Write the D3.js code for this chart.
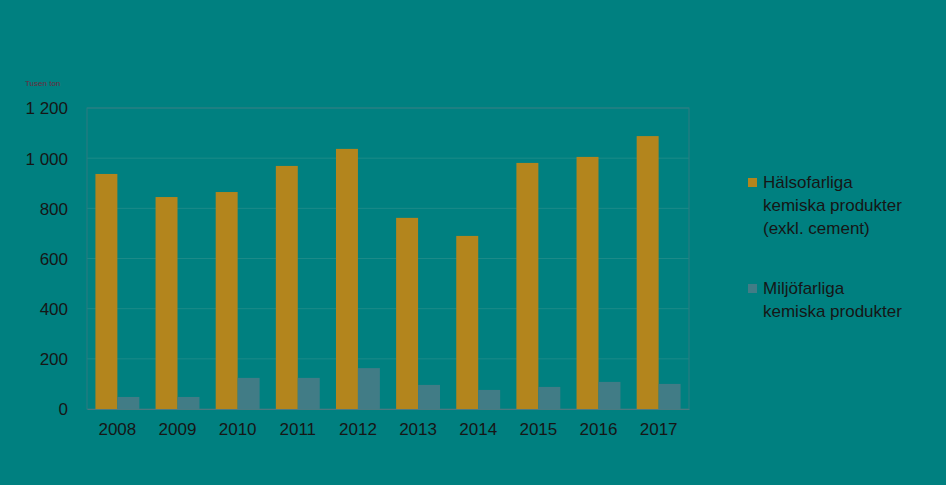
<!DOCTYPE html>
<html><head><meta charset="utf-8">
<script src="https://cdn.jsdelivr.net/npm/d3@7"></script>
<style>body{margin:0;background:#008080}text{font-family:"Liberation Sans",Arial,sans-serif}</style>
</head><body><svg id="chart" width="946" height="485"></svg>
<script>
// --- Data ---
const years = ["2008","2009","2010","2011","2012","2013","2014","2015","2016","2017"];
const halso = [937, 845, 865, 969, 1037, 762, 690, 981, 1005, 1088];
const miljo = [48, 48, 124, 124, 163, 96, 76, 88, 108, 100];
const yTicks = [0, 200, 400, 600, 800, 1000, 1200];
const seriesNames = [["Hälsofarliga", "kemiska produkter", "(exkl. cement)"], ["Miljöfarliga", "kemiska produkter"]];
const colors = ["#b3851d", "#417c86"];

const svg = d3.select("#chart");
svg.append("rect").attr("width", 946).attr("height", 485).attr("fill", "#008080");

const m = { left: 87, right: 689, top: 108, bottom: 409 };
const x = d3.scaleBand().domain(years).range([m.left, m.right]).paddingInner(0.27).paddingOuter(0.14);
const y = d3.scaleLinear().domain([0, 1200]).range([m.bottom, m.top]);
const fmt = v => d3.format(",")(v).replace(",", " ");

// grid
svg.append("g").selectAll("line").data(yTicks.slice(1)).join("line")
  .attr("x1", m.left).attr("x2", m.right).attr("y1", y).attr("y2", y)
  .attr("stroke", "#1c8a88").attr("stroke-width", 1);
svg.append("rect").attr("x", m.left).attr("y", m.top).attr("width", m.right - m.left).attr("height", m.bottom - m.top)
  .attr("fill", "none").attr("stroke", "#2f7a80");

const bw = x.bandwidth() / 2;
[halso, miljo].forEach((vals, i) => {
  svg.append("g").selectAll("rect").data(vals).join("rect")
    .attr("x", (d, j) => x(years[j]) + i * bw).attr("width", bw)
    .attr("y", d => y(d)).attr("height", d => y(0) - y(d)).attr("fill", colors[i]);
});

// axes
const yAxis = svg.append("g").attr("transform", `translate(${m.left - 16},0)`)
  .call(d3.axisLeft(y).tickValues(yTicks).tickFormat(fmt).tickSize(0));
yAxis.select(".domain").remove();
yAxis.selectAll("text").attr("font-size", 17).attr("fill", "#161616").attr("dy", "0.35em");

const xAxis = svg.append("g").attr("transform", `translate(0,${m.bottom})`)
  .call(d3.axisBottom(x).tickSize(0).tickPadding(14));
xAxis.select(".domain").attr("stroke", "#4a7a80");
xAxis.selectAll("text").attr("font-size", 17).attr("fill", "#161616");

svg.append("text").attr("x", 25).attr("y", 86).attr("font-size", 8).attr("fill", "#6a2a3a").text("Tusen ton");

// legend
const legY = [184, 290];
seriesNames.forEach((lines, i) => {
  svg.append("rect").attr("x", 748).attr("y", legY[i] - 6).attr("width", 9).attr("height", 9).attr("fill", colors[i]);
  lines.forEach((t, k) => svg.append("text").attr("x", 763).attr("y", legY[i] + 4 + k * 23)
    .attr("font-size", 17).attr("fill", "#161616").text(t));
});
</script></body></html>
